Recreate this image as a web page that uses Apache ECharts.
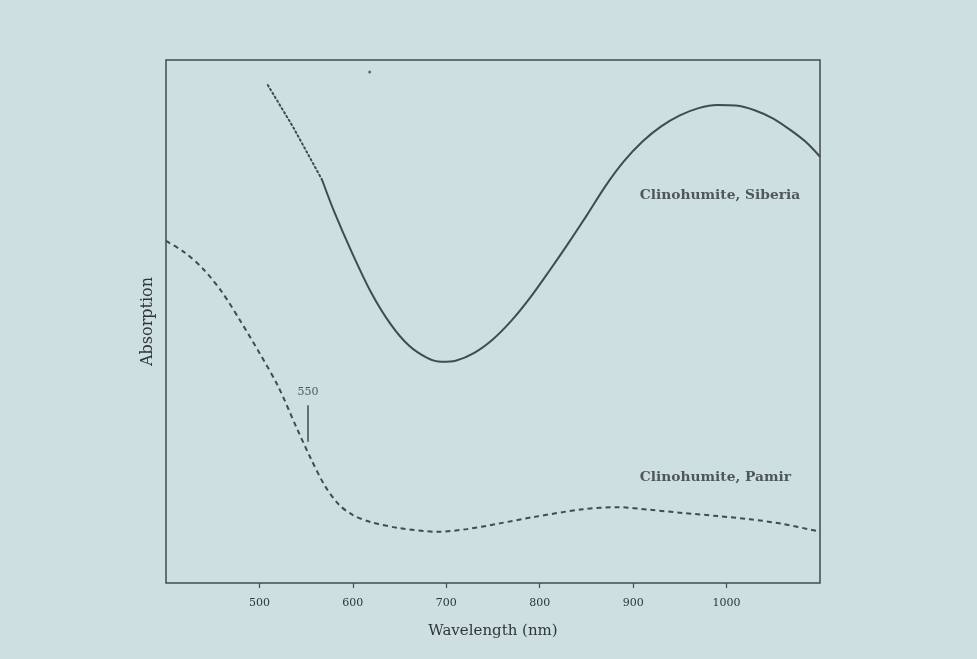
<!DOCTYPE html>
<html>
<head>
<meta charset="utf-8">
<script src="https://cdn.jsdelivr.net/npm/echarts@6/dist/echarts.min.js"></script>
<style>
  html, body { margin: 0; padding: 0; background: #cddfe0; }
  #chart { width: 977px; height: 659px; }
</style>
</head>
<body>
<div id="chart"></div>
<script>
// Values. Absorption is in arbitrary units (0-100 over the frame).
const tickWavelengths = [500, 600, 700, 800, 900, 1000];

// Siberia: dotted extrapolation at the short-wavelength end, then the measured solid curve
const siberiaDotted = [[509, 95.2], [536, 87.2], [567, 77.1]];
const siberiaSolid = [
  [567, 77.1], [580, 71.0], [600, 62.8], [620, 55.4], [640, 49.6], [660, 45.4],
  [680, 43.0], [695, 42.3], [710, 42.5], [730, 44.0], [750, 46.6], [770, 50.2],
  [790, 54.6], [810, 59.6], [830, 64.8], [850, 70.2], [870, 75.8], [890, 80.6],
  [910, 84.4], [930, 87.3], [950, 89.4], [970, 90.8], [990, 91.4], [1010, 91.3],
  [1030, 90.4], [1050, 88.8], [1070, 86.4], [1085, 84.3], [1100, 81.5]
];

const pamir = [
  [400, 65.4], [420, 63.2], [440, 60.0], [460, 55.6], [480, 50.0], [500, 44.0],
  [520, 37.6], [540, 29.6], [555, 23.8], [570, 18.6], [585, 15.0], [600, 13.0],
  [620, 11.6], [650, 10.5], [690, 9.8], [722, 10.3], [757, 11.4], [793, 12.6],
  [846, 14.1], [883, 14.5], [918, 14.0], [953, 13.4], [990, 12.8], [1025, 12.2],
  [1060, 11.3], [1100, 9.8]
];

// the "550" marker drawn on the Pamir curve
const marker550 = [[552, 34.0], [552, 27.0]];
const marker550Label = [[552, 35.4]];

const curveLabels = [
  { name: 'Clinohumite, Siberia', value: [907, 74.2] },
  { name: 'Clinohumite, Pamir', value: [907, 20.1] }
];

// small printed speck near the top of the frame
const speck = [[618, 97.7]];

const INK = '#434b4b';
const TEXT = '#2f3636';
const FONT = 'DejaVu Serif';

const chart = echarts.init(document.getElementById('chart'), null, { renderer: 'canvas' });

chart.setOption({
  backgroundColor: '#cddfe0',
  animation: false,
  grid: {
    left: 166, right: 157, top: 60, bottom: 76,
    show: true, borderColor: INK, borderWidth: 1.5
  },
  xAxis: {
    type: 'value',
    min: 400, max: 1100, interval: 100,
    name: 'Wavelength (nm)',
    nameLocation: 'middle',
    nameGap: 41,
    nameTextStyle: { fontFamily: FONT, fontSize: 15, color: TEXT },
    axisLine: { show: false },
    axisTick: { show: true, inside: false, length: 5, customValues: tickWavelengths, lineStyle: { color: INK, width: 1.2 } },
    axisLabel: {
      customValues: tickWavelengths, margin: 15, fontFamily: FONT, fontSize: 11, color: TEXT,
      formatter: (v) => String(v)
    },
    splitLine: { show: false }
  },
  yAxis: {
    type: 'value',
    min: 0, max: 100,
    name: 'Absorption',
    nameLocation: 'middle',
    nameGap: 10,
    nameRotate: 90,
    nameTextStyle: { fontFamily: FONT, fontSize: 16, color: TEXT },
    axisLine: { show: false },
    axisTick: { show: false },
    axisLabel: { show: false },
    splitLine: { show: false }
  },
  series: [
    {
      name: 'Siberia (extrapolated)',
      type: 'line',
      data: siberiaDotted,
      symbol: 'none',
      lineStyle: { color: INK, width: 2, type: [1.5, 3], cap: 'round' }
    },
    {
      name: 'Siberia',
      type: 'line',
      data: siberiaSolid,
      symbol: 'none',
      smooth: 0.3,
      lineStyle: { color: INK, width: 2 }
    },
    {
      name: 'Pamir',
      type: 'line',
      data: pamir,
      symbol: 'none',
      smooth: 0.3,
      lineStyle: { color: INK, width: 2, type: [5, 4] }
    },
    {
      name: '550 marker',
      type: 'line',
      data: marker550,
      symbol: 'none',
      lineStyle: { color: INK, width: 1.5 }
    },
    {
      name: '550 label',
      type: 'scatter',
      data: marker550Label,
      symbolSize: 0,
      label: {
        show: true, position: 'top', distance: 0,
        formatter: '550', fontFamily: FONT, fontSize: 11, color: TEXT
      }
    },
    {
      name: 'curve labels',
      type: 'scatter',
      data: curveLabels,
      symbolSize: 0,
      label: {
        show: true, position: 'right', distance: 0,
        formatter: '{b}', fontFamily: FONT, fontSize: 13.8, fontWeight: 'bold', color: TEXT
      }
    },
    {
      name: 'speck',
      type: 'scatter',
      data: speck,
      symbolSize: 3,
      itemStyle: { color: INK }
    }
  ]
});
</script>
</body>
</html>
